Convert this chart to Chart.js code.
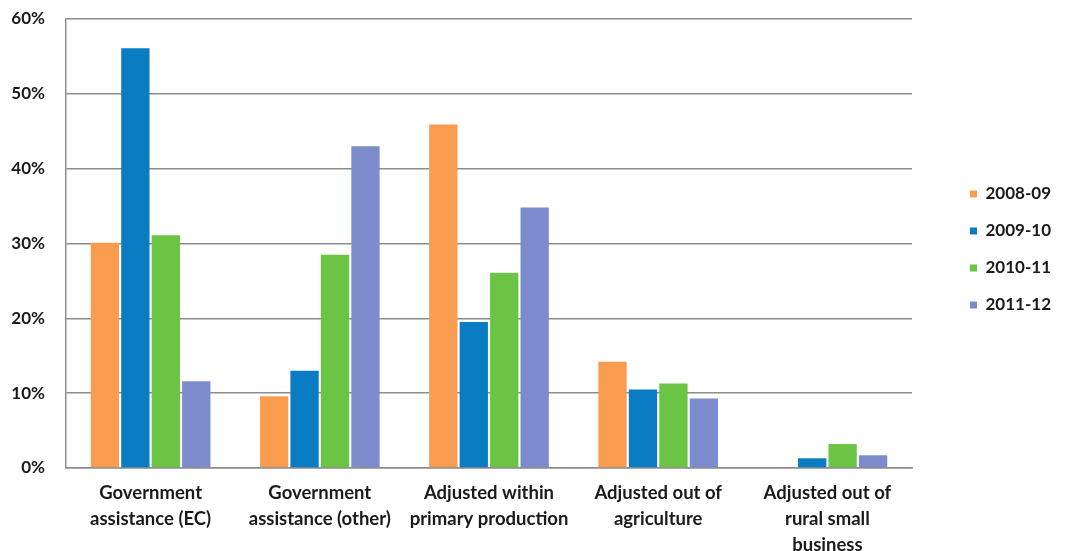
<!DOCTYPE html>
<html>
<head>
<meta charset="utf-8">
<script src="https://cdn.jsdelivr.net/npm/chart.js@4"></script>
<style>
html,body{margin:0;padding:0;background:#fff;}
#wrap{width:1066px;height:551px;position:relative;}
</style>
</head>
<body>
<div id="wrap"><canvas id="c" width="1066" height="551"></canvas></div>
<script>
const categories = [
  ["Government", "assistance (EC)"],
  ["Government", "assistance (other)"],
  ["Adjusted within", "primary production"],
  ["Adjusted out of", "agriculture"],
  ["Adjusted out of", "rural small", "business"]
];
const seriesNames = ["2008-09", "2009-10", "2010-11", "2011-12"];
const values2008 = [30.1, 9.6, 45.9, 14.2, 0];
const values2009 = [56.1, 13.0, 19.5, 10.5, 1.3];
const values2010 = [31.1, 28.5, 26.1, 11.3, 3.2];
const values2011 = [11.6, 43.0, 34.8, 9.3, 1.7];
const seriesColors = ["#FA9C50", "#0A7CC3", "#6CC444", "#7B8BCB"];
const yTicks = [0, 10, 20, 30, 40, 50, 60];

const allValues = [values2008, values2009, values2010, values2011];

const legendPlugin = {
  id: 'legendPlace',
  beforeInit(chart) {
    const orig = chart.legend.fit;
    chart.legend.fit = function () {
      orig.call(this);
      this.width = 154;
    };
  },
  afterLayout(chart) {
    const lg = chart.legend;
    lg.left += 38; lg.right += 38;
    lg.top += 6; lg.bottom += 6;
  }
};

const FONT = 'Lato';

new Chart(document.getElementById('c'), {
  type: 'bar',
  data: {
    labels: categories,
    datasets: seriesNames.map((n, i) => ({
      label: n,
      data: allValues[i],
      backgroundColor: seriesColors[i],
      borderWidth: 0,
      categoryPercentage: 0.72,
      barPercentage: 0.93
    }))
  },
  plugins: [legendPlugin],
  options: {
    responsive: false,
    animation: false,
    devicePixelRatio: 1,
    layout: { padding: { top: 19, left: 0, right: 0, bottom: 0 } },
    plugins: {
      legend: {
        position: 'right',
        align: 'center',
        fullSize: false,
        labels: {
          boxWidth: 7,
          boxHeight: 7,
          padding: 20,
          color: '#1a1a1a',
          font: { family: FONT, size: 17, weight: 'bold' }
        }
      },
      tooltip: { enabled: false }
    },
    scales: {
      x: {
        afterFit(scale) { scale.height = 83; },
        grid: { display: false, drawTicks: false },
        border: { display: true, color: '#8c8c8c', width: 1.5 },
        ticks: {
          color: '#1a1a1a',
          padding: 12,
          maxRotation: 0,
          autoSkip: false,
          font: { family: FONT, size: 18.5, weight: 'bold', lineHeight: 1.4 }
        }
      },
      y: {
        min: 0,
        max: 60,
        afterBuildTicks(axis) { axis.ticks = yTicks.map(v => ({ value: v })); },
        afterFit(scale) {
          scale.width = 66;
          scale.paddingTop = 0;
          scale.paddingBottom = 0;
        },
        grid: { color: '#8c8c8c', lineWidth: 1.5, drawTicks: false },
        border: { display: true, color: '#8c8c8c', width: 1.5 },
        ticks: {
          color: '#1a1a1a',
          padding: 21,
          font: { family: FONT, size: 17, weight: 'bold' },
          callback: v => v + '%'
        }
      }
    }
  }
});
</script>
</body>
</html>
